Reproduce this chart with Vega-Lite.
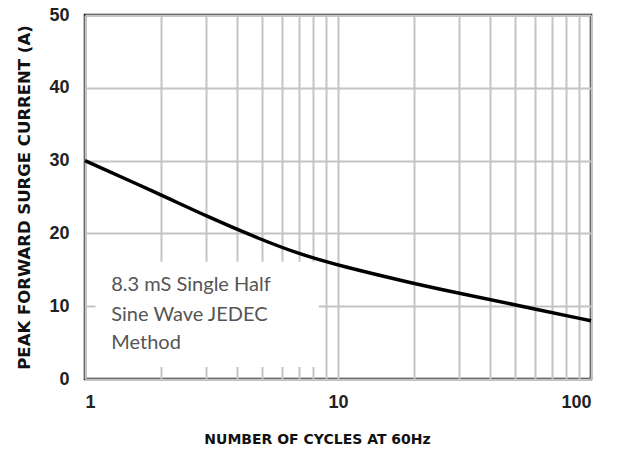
{
  "$schema": "https://vega.github.io/schema/vega-lite/v6.json",
  "autosize": "none",
  "width": 506,
  "height": 364,
  "padding": {"left": 85, "top": 15, "right": 29, "bottom": 76},
  "background": "white",
  "config": {
    "view": {"stroke": "#111", "strokeWidth": 2.5},
    "axis": {
      "labelFont": "Liberation Sans",
      "titleFont": "DejaVu Sans",
      "labelFontWeight": "bold",
      "titleFontWeight": "bold",
      "labelColor": "#222",
      "titleColor": "#111",
      "gridColor": "#c4c4c4",
      "gridWidth": 2,
      "gridOpacity": 1,
      "domain": false,
      "ticks": false
    }
  },
  "datasets": {
    "curve": [
      {"cycles": 1, "current": 30.0},
      {"cycles": 2, "current": 25.3},
      {"cycles": 3, "current": 22.4},
      {"cycles": 5, "current": 19.1},
      {"cycles": 7, "current": 17.2},
      {"cycles": 10, "current": 15.6},
      {"cycles": 20, "current": 13.1},
      {"cycles": 30, "current": 11.8},
      {"cycles": 50, "current": 10.2},
      {"cycles": 100, "current": 8.0}
    ],
    "box": [{"x1": 1.1, "x2": 8.4, "y1": 1.65, "y2": 16.1}],
    "note": [
      {"x": 1.27, "y": 12.9, "t": "8.3 mS Single Half"},
      {"x": 1.27, "y": 8.8, "t": "Sine Wave JEDEC"},
      {"x": 1.27, "y": 4.9, "t": "Method"}
    ]
  },
  "layer": [
    {
      "data": {"name": "box"},
      "mark": {"type": "rect", "fill": "white", "stroke": null},
      "encoding": {
        "x": {"field": "x1", "type": "quantitative", "scale": {"type": "log", "domain": [1, 100]},
          "axis": {
            "title": "NUMBER OF CYCLES AT 60Hz",
            "values": [1,2,3,4,5,6,7,8,9,10,20,30,40,50,60,70,80,90,100],
            "labelExpr": "datum.value == 1 || datum.value == 10 || datum.value == 100 ? format(datum.value, 'd') : ''",
            "labelOverlap": false,
            "labelFontSize": 18,
            "labelPadding": 14,
            "titleFontSize": 14,
            "titlePadding": 21,
            "titleX": 232
          }},
        "x2": {"field": "x2"},
        "y": {"field": "y1", "type": "quantitative", "scale": {"domain": [0, 50]},
          "axis": {
            "title": "PEAK FORWARD SURGE CURRENT (A)",
            "values": [0, 10, 20, 30, 40, 50],
            "labelFontSize": 18,
            "labelPadding": 16,
            "titleFontSize": 16.5,
            "titlePadding": 16
          }},
        "y2": {"field": "y2"}
      }
    },
    {
      "data": {"name": "note"},
      "mark": {"type": "text", "align": "left", "baseline": "middle", "font": "Lato", "fontSize": 20, "color": "#555"},
      "encoding": {
        "x": {"field": "x", "type": "quantitative"},
        "y": {"field": "y", "type": "quantitative"},
        "text": {"field": "t"}
      }
    },
    {
      "data": {"name": "curve"},
      "mark": {"type": "line", "color": "#000", "strokeWidth": 3.5, "interpolate": "basis"},
      "encoding": {
        "x": {"field": "cycles", "type": "quantitative"},
        "y": {"field": "current", "type": "quantitative"}
      }
    }
  ]
}
